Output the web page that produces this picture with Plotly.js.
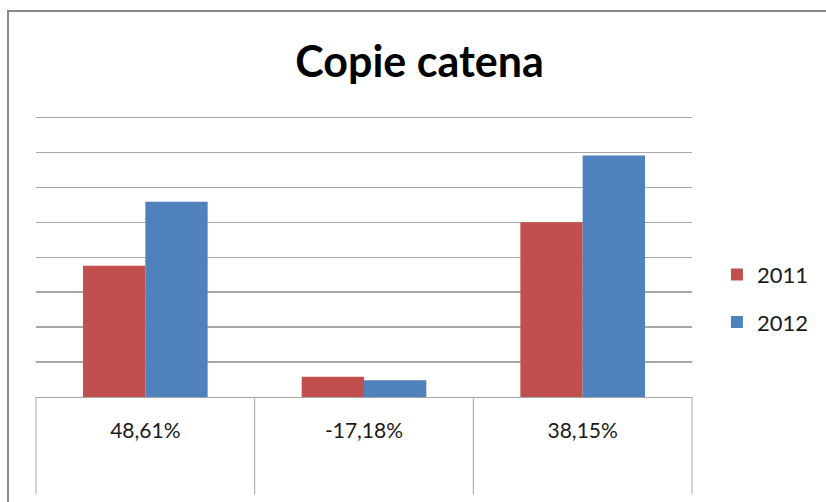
<!DOCTYPE html>
<html>
<head>
<meta charset="utf-8">
<script src="https://cdn.plot.ly/plotly-3.0.1.min.js"></script>
<style>
  html, body { margin: 0; padding: 0; background: #ffffff; }
  #wrap { position: relative; width: 826px; height: 502px; overflow: hidden; }
  #chart { position: absolute; left: 0; top: 0; width: 826px; height: 502px; }
  #frame { position: absolute; left: 7px; top: 10px; width: 900px; height: 600px;
           border-left: 2px solid #8a8a8a; border-top: 2px solid #8a8a8a;
           pointer-events: none; z-index: 10; }
</style>
</head>
<body>
<div id="wrap">
  <div id="chart"></div>
  <div id="frame"></div>
</div>
<script>
// Data
const categories = ["48,61%", "-17,18%", "38,15%"];
const seriesNames = ["2011", "2012"];
const values2011 = [3.76, 0.58, 5.00];
const values2012 = [5.59, 0.48, 6.91];
const seriesColors = ["#C0504D", "#4F81BD"];

const traces = [
  {
    type: "bar", name: seriesNames[0], x: categories, y: values2011,
    marker: { color: seriesColors[0] }, legendgroup: "a", hoverinfo: "none"
  },
  {
    type: "bar", name: seriesNames[1], x: categories, y: values2012,
    marker: { color: seriesColors[1] }, legendgroup: "b", hoverinfo: "none"
  }
];

const gridColor = "#a6a6a6";
const plotH = 502 - 116 - 104.5;
const tableBottom = -(495 - 397.5) / plotH;
const shapes = [0, 1/3, 2/3, 1].map(px => ({
  type: "line", xref: "paper", yref: "paper",
  x0: px, x1: px, y0: 0, y1: tableBottom,
  line: { color: gridColor, width: 1 }
}));

const layout = {
  width: 826, height: 502,
  margin: { l: 36, r: 132, t: 116, b: 104.5, pad: 0 },
  paper_bgcolor: "rgba(0,0,0,0)",
  plot_bgcolor: "rgba(0,0,0,0)",
  barmode: "group",
  bargap: 0.43,
  bargroupgap: 0,
  title: {
    text: "<b>Copie catena</b>",
    font: { family: "Lato, sans-serif", size: 43, color: "#000000" },
    xref: "container", yref: "container",
    x: 0.508, xanchor: "center",
    y: 1 - 62 / 502, yanchor: "middle"
  },
  xaxis: {
    type: "category",
    range: [-0.5, 2.5],
    showgrid: false,
    showline: true, linecolor: gridColor, linewidth: 1,
    ticks: "",
    tickfont: { family: "Lato, sans-serif", size: 21, color: "#1a1a1a" },
    ticklabelstandoff: 15,
    fixedrange: true
  },
  yaxis: {
    range: [0, 8.043],
    dtick: 1, tick0: 0,
    showgrid: true, gridcolor: gridColor, gridwidth: 1.5,
    zeroline: false,
    showticklabels: false,
    ticks: "",
    fixedrange: true
  },
  legend: {
    x: 1.038, xanchor: "left",
    y: 0.35, yanchor: "middle",
    orientation: "v",
    font: { family: "Lato, sans-serif", size: 22, color: "#1a1a1a" },
    bgcolor: "rgba(0,0,0,0)",
    tracegroupgap: 16,
    traceorder: "grouped"
  },
  shapes: shapes,
  showlegend: true
};

Plotly.newPlot("chart", traces, layout, { displayModeBar: false, staticPlot: true });
</script>
</body>
</html>
